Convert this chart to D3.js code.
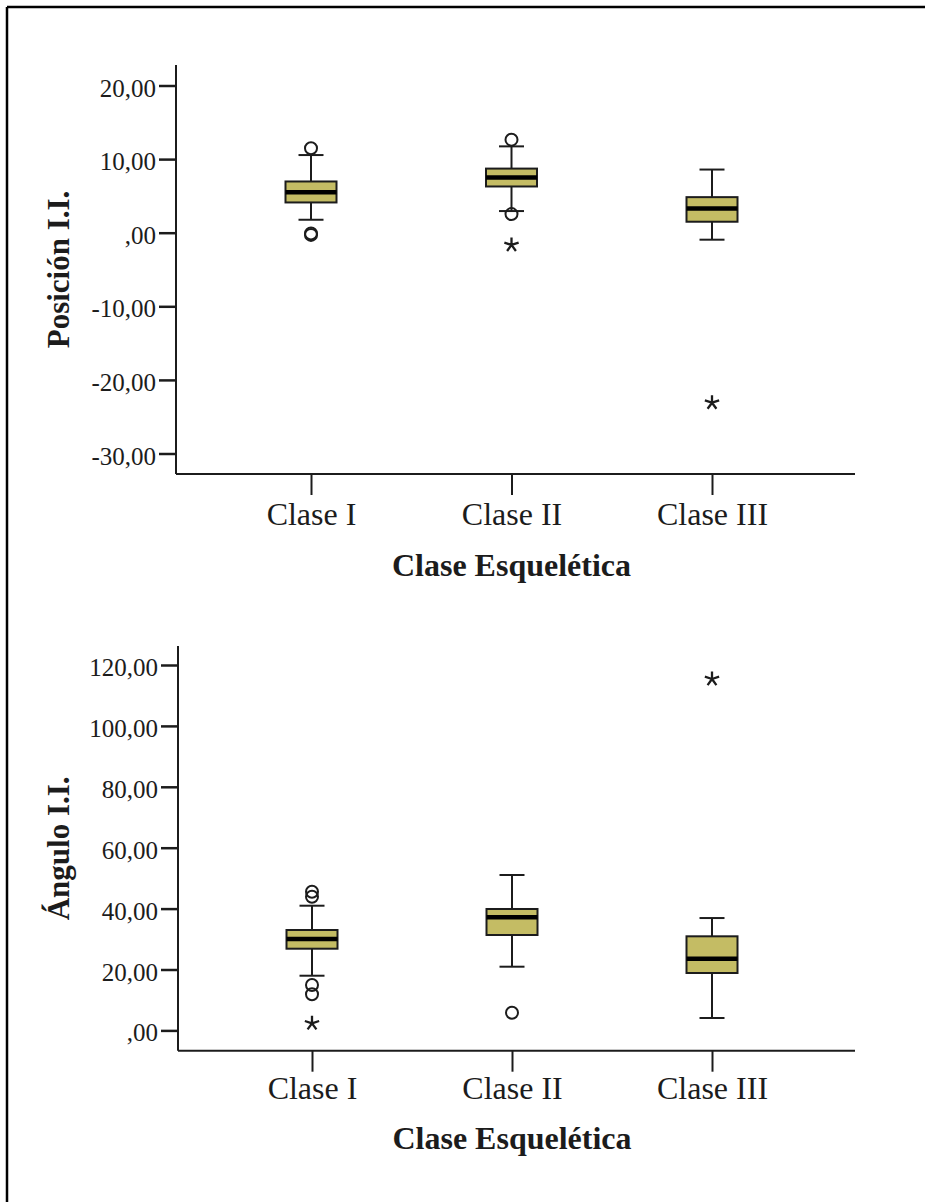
<!DOCTYPE html>
<html>
<head>
<meta charset="utf-8">
<script src="https://cdn.jsdelivr.net/npm/d3@7"></script>
<style>
  body { margin: 0; background: #fff; }
  svg { display: block; }
</style>
</head>
<body>
<svg id="chart" width="925" height="1202"></svg>
<script>
// categories on the x axis
const categories = ["Clase I", "Clase II", "Clase III"];

// Posición I.I. (top panel)
const posTicks = [20, 10, 0, -10, -20, -30];
const posWhiskerLow = [1.76, 2.94, -0.95];
const posQ1 = [4.11, 6.28, 1.49];
const posMedian = [5.51, 7.49, 3.30];
const posQ3 = [6.96, 8.71, 4.83];
const posWhiskerHigh = [10.55, 11.73, 8.58];
const posCircles = [[11.47, -0.1, -0.3], [12.64, 2.53], []];
const posStars = [[], [-1.66], [-23.1]];

// Ángulo I.I. (bottom panel)
const angTicks = [120, 100, 80, 60, 40, 20, 0];
const angWhiskerLow = [17.96, 20.92, 4.07];
const angQ1 = [26.83, 31.33, 18.85];
const angMedian = [30.0, 37.14, 23.55];
const angQ3 = [32.97, 39.87, 30.9];
const angWhiskerHigh = [40.95, 51.03, 36.9];
const angCircles = [[45.55, 43.9, 14.9, 11.86], [5.81], []];
const angStars = [[2.33], [], [115.4]];

const svg = d3.select("#chart");
const ink = "#1c1c1c";
const boxFill = "#c4bc64";
const serif = "'Liberation Serif', 'Times New Roman', serif";

// number format like SPSS: comma decimals, ",00" for zero
const locale = d3.formatLocale({decimal: ",", thousands: ".", grouping: [3], currency: ["", ""], minus: "-"});
const fmt2 = locale.format(".2f");
const tickFmt = v => fmt2(v).replace(/^0,/, ",");

// outer frame (top and left edge only are visible)
svg.append("line").attr("x1", 7).attr("x2", 925).attr("y1", 7).attr("y2", 7)
  .attr("stroke", "#000").attr("stroke-width", 2.5);
svg.append("line").attr("x1", 7).attr("x2", 7).attr("y1", 7).attr("y2", 1202)
  .attr("stroke", "#000").attr("stroke-width", 2.5);

function drawPanel(cfg, d) {
  const g = svg.append("g");

  let y = d3.scaleLinear().domain(cfg.yDomain).range(cfg.yRange);
  let x = d3.scalePoint().domain(categories).range(cfg.xRange);

  // y axis line + ticks
  g.append("line")
    .attr("x1", cfg.axisX).attr("x2", cfg.axisX)
    .attr("y1", cfg.axisTop).attr("y2", cfg.axisBottom)
    .attr("stroke", ink).attr("stroke-width", 2);

  let yAxis = d3.axisLeft(y).tickValues(d.ticks).tickSize(17).tickPadding(3).tickFormat(tickFmt);
  let yg = g.append("g").attr("transform", "translate(" + cfg.axisX + ",0)").call(yAxis);
  yg.select(".domain").remove();
  yg.selectAll(".tick line").attr("stroke", ink).attr("stroke-width", 2.5);
  yg.selectAll("text")
    .attr("dy", "0.42em")
    .style("font", "25px " + serif)
    .attr("fill", ink);

  // x axis line + ticks
  g.append("line")
    .attr("x1", cfg.axisX).attr("x2", cfg.axisRight)
    .attr("y1", cfg.axisBottom).attr("y2", cfg.axisBottom)
    .attr("stroke", ink).attr("stroke-width", 2);

  let xAxis = d3.axisBottom(x).tickSize(21);
  let xg = g.append("g").attr("transform", "translate(0," + cfg.axisBottom + ")").call(xAxis);
  xg.select(".domain").remove();
  xg.selectAll(".tick line").attr("stroke", ink).attr("stroke-width", 2);
  xg.selectAll("text")
    .attr("y", cfg.labelOffset).attr("dy", null)
    .style("font", "32px " + serif)
    .attr("fill", ink);

  // axis titles
  g.append("text")
    .attr("x", (cfg.xRange[0] + cfg.xRange[1]) / 2)
    .attr("y", cfg.axisBottom + cfg.titleOffset)
    .attr("text-anchor", "middle")
    .style("font", "bold 32px " + serif)
    .attr("fill", ink)
    .text("Clase Esquelética");

  let cy = (cfg.axisTop + cfg.axisBottom) / 2;
  g.append("text")
    .attr("transform", "translate(69," + cy + ") rotate(-90)")
    .attr("text-anchor", "middle")
    .style("font", "bold 31px " + serif)
    .attr("fill", ink)
    .text(cfg.yTitle);

  const boxHalf = 25.5, capHalf = 12.5;

  categories.forEach(function(c, i) {
    let cx = x(c);
    let bg = g.append("g");

    // whiskers
    bg.append("line").attr("x1", cx).attr("x2", cx)
      .attr("y1", y(d.whiskerHigh[i])).attr("y2", y(d.q3[i]))
      .attr("stroke", ink).attr("stroke-width", 2);
    bg.append("line").attr("x1", cx).attr("x2", cx)
      .attr("y1", y(d.q1[i])).attr("y2", y(d.whiskerLow[i]))
      .attr("stroke", ink).attr("stroke-width", 2);
    [d.whiskerHigh[i], d.whiskerLow[i]].forEach(function(v) {
      bg.append("line").attr("x1", cx - capHalf).attr("x2", cx + capHalf)
        .attr("y1", y(v)).attr("y2", y(v))
        .attr("stroke", ink).attr("stroke-width", 2);
    });

    // box
    bg.append("rect")
      .attr("x", cx - boxHalf).attr("width", boxHalf * 2)
      .attr("y", y(d.q3[i])).attr("height", y(d.q1[i]) - y(d.q3[i]))
      .attr("fill", boxFill).attr("stroke", ink).attr("stroke-width", 2);

    // median
    bg.append("line").attr("x1", cx - boxHalf).attr("x2", cx + boxHalf)
      .attr("y1", y(d.median[i])).attr("y2", y(d.median[i]))
      .attr("stroke", "#000").attr("stroke-width", 4.5);

    // outliers (circles)
    bg.selectAll("circle.out")
      .data(d.circles[i])
      .join("circle")
      .attr("class", "out")
      .attr("cx", cx).attr("cy", v => y(v)).attr("r", 6)
      .attr("fill", "none").attr("stroke", ink).attr("stroke-width", 2);

    // extremes (asterisks)
    bg.selectAll("path.star")
      .data(d.stars[i])
      .join("path")
      .attr("class", "star")
      .attr("d", function(v) {
        let sy = y(v), p = "";
        for (let k = 0; k < 5; k++) {
          let a = -Math.PI / 2 + k * 2 * Math.PI / 5;
          p += "M" + cx + "," + sy + "L" + (cx + 7.5 * Math.cos(a)) + "," + (sy + 7.5 * Math.sin(a));
        }
        return p;
      })
      .attr("stroke", ink).attr("stroke-width", 2.3).attr("stroke-linecap", "butt").attr("fill", "none");
  });
}

drawPanel(
  {yDomain: [-30, 20], yRange: [453.5, 85.5], axisX: 176, axisRight: 855, axisTop: 65, axisBottom: 474,
   xRange: [311, 712], labelOffset: 51, titleOffset: 102, yTitle: "Posición I.I."},
  {ticks: posTicks, whiskerLow: posWhiskerLow, q1: posQ1, median: posMedian, q3: posQ3,
   whiskerHigh: posWhiskerHigh, circles: posCircles, stars: posStars}
);

drawPanel(
  {yDomain: [0, 120], yRange: [1030.4, 665], axisX: 178, axisRight: 855, axisTop: 646, axisBottom: 1050.7,
   xRange: [312, 712], labelOffset: 48, titleOffset: 98, yTitle: "Ángulo I.I."},
  {ticks: angTicks, whiskerLow: angWhiskerLow, q1: angQ1, median: angMedian, q3: angQ3,
   whiskerHigh: angWhiskerHigh, circles: angCircles, stars: angStars}
);
</script>
</body>
</html>
